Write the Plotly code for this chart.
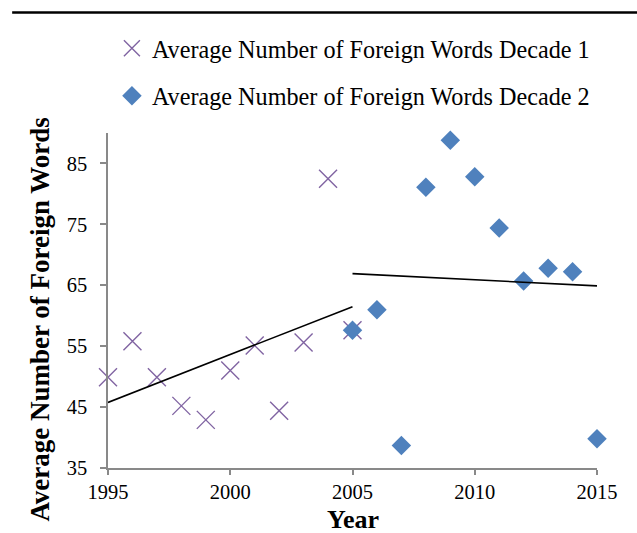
import numpy as np
import plotly.graph_objects as go

# Average number of foreign words per year, two decades
years_d1 = [1995, 1996, 1997, 1998, 1999, 2000, 2001, 2002, 2003, 2004, 2005]
words_d1 = [49.9, 55.8, 49.9, 45.2, 42.9, 51.0, 55.1, 44.4, 55.6, 82.5, 57.6]

years_d2 = [2005, 2006, 2007, 2008, 2009, 2010, 2011, 2012, 2013, 2014, 2015]
words_d2 = [57.6, 61.0, 38.7, 81.1, 88.8, 82.8, 74.4, 65.7, 67.8, 67.2, 39.8]

name_d1 = "Average Number of Foreign Words Decade 1"
name_d2 = "Average Number of Foreign Words Decade 2"

x_ticks = [1995, 2000, 2005, 2010, 2015]
y_ticks = [35, 45, 55, 65, 75, 85]

FONT = "Times New Roman, Liberation Serif, serif"
AXIS_GREY = "#898989"


def linear_trend(xs, ys):
    slope, intercept = np.polyfit(xs, ys, 1)
    xe = np.array([min(xs), max(xs)])
    return xe, slope * xe + intercept


fig = go.Figure()

fig.add_trace(go.Scatter(
    x=years_d1, y=words_d1, mode="markers", name=name_d1,
    legendgroup="d1", cliponaxis=False,
    marker=dict(symbol="x-thin-open", size=18, color="#8064A2",
                line=dict(color="#8064A2", width=1.4)),
))
fig.add_trace(go.Scatter(
    x=years_d2, y=words_d2, mode="markers", name=name_d2,
    legendgroup="d2", cliponaxis=False,
    marker=dict(symbol="diamond", size=15, color="#4F81BD",
                line=dict(width=0)),
))

# Linear trend lines for each decade
for xs, ys in [(years_d1, words_d1), (years_d2, words_d2)]:
    tx, ty = linear_trend(xs, ys)
    fig.add_trace(go.Scatter(
        x=tx, y=ty, mode="lines", showlegend=False, hoverinfo="skip",
        cliponaxis=False,
        line=dict(color="black", width=1.6),
    ))

fig.update_layout(
    width=637, height=533,
    margin=dict(l=108, r=40, t=133, b=65, autoexpand=False),
    paper_bgcolor="white", plot_bgcolor="white",
    font=dict(family=FONT, color="black", size=20),
    showlegend=True,
    legend=dict(
        x=0.008, y=1.319, xanchor="left", yanchor="top",
        font=dict(family=FONT, size=24.2, color="black"),
        traceorder="grouped", tracegroupgap=13,
        itemwidth=30, bgcolor="rgba(0,0,0,0)",
    ),
    xaxis=dict(
        range=[1995, 2015], tickmode="array", tickvals=x_ticks,
        showgrid=False, zeroline=False,
        showline=True, linecolor=AXIS_GREY, linewidth=1.5,
        ticks="outside", ticklen=5, tickwidth=1.5, tickcolor=AXIS_GREY,
        tickfont=dict(family=FONT, size=20.5, color="black"),
    ),
    yaxis=dict(
        range=[35, 90], tickmode="array", tickvals=y_ticks,
        showgrid=False, zeroline=False,
        showline=True, linecolor=AXIS_GREY, linewidth=1.5,
        ticks="outside", ticklen=6, tickwidth=1.5, tickcolor=AXIS_GREY,
        tickfont=dict(family=FONT, size=20.5, color="black"),
        ticklabelstandoff=9,
    ),
    annotations=[
        dict(text="<b>Average Number of Foreign Words</b>", textangle=-90,
             xref="paper", yref="paper", x=-0.139, y=0.443,
             xanchor="center", yanchor="middle", showarrow=False,
             font=dict(family=FONT, size=27, color="black")),
        dict(text="<b>Year</b>",
             xref="paper", yref="paper", x=0.5, y=-0.153,
             xanchor="center", yanchor="middle", showarrow=False,
             font=dict(family=FONT, size=26, color="black")),
    ],
    shapes=[
        dict(type="line", xref="paper", yref="paper",
             x0=-0.196, x1=1.09, y0=1.36, y1=1.36,
             line=dict(color="black", width=2.5)),
    ],
)

fig.write_html("out.html")
